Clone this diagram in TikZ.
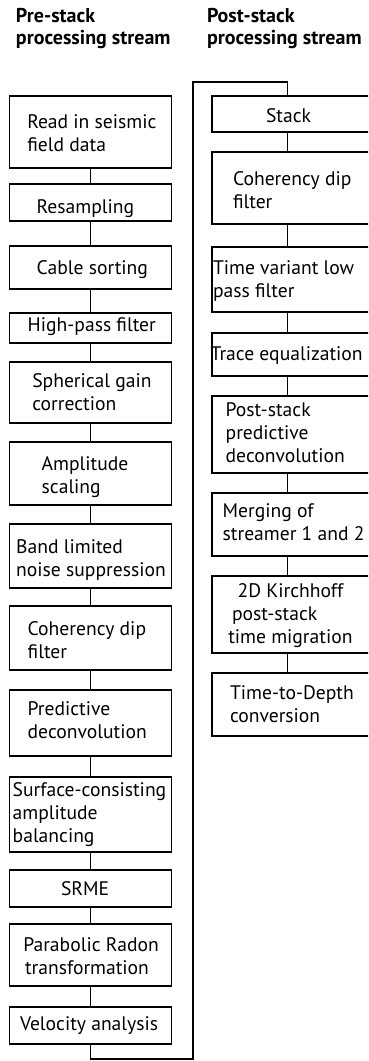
\documentclass[tikz,border=0pt]{standalone}
\usepackage{fontspec}
\setmainfont{PT Sans}
\newcommand\mlines[1]{\vtop{\baselineskip=23pt\lineskiplimit=-30pt\lineskip=0pt\halign{##\hfil\cr#1\crcr}}}
\newcommand\tlines[1]{\vtop{\baselineskip=22pt\lineskiplimit=-30pt\lineskip=0pt\halign{##\hfil\cr#1\crcr}}}
\tikzset{
  box/.style={draw, line width=1.2pt, outer sep=0pt, inner sep=0pt, minimum width=162.2pt, anchor=north west},
  txt/.style={anchor=base west, inner sep=0pt, outer sep=0pt, font=\fontsize{19.6}{23}\selectfont},
  ttl/.style={anchor=base west, inner sep=0pt, outer sep=0pt, font=\bfseries\fontsize{20}{22}\selectfont},
  link/.style={line width=1.2pt}
}
\newcommand\bx[4]{\node[box, minimum height=\the\dimexpr#4pt-#3pt\relax] (#1) at (#2,#3) {};}
\begin{document}
\begin{tikzpicture}[x=1pt,y=-1pt]
\useasboundingbox (0,0) rectangle (368,1061);
\clip (0,0) rectangle (368,1061);
% titles
\node[ttl] (t1) at (16,22) {\tlines{Pre-stack\cr processing stream}};
\node[ttl] (t2) at (207,22) {\tlines{Post-stack\cr processing stream}};
% left boxes
\bx{L1}{9.5}{96}{168}
\bx{L2}{9.5}{184}{221}
\bx{L3}{9.5}{246}{289}
\bx{L4}{9.5}{313}{343}
\bx{L5}{9.5}{362}{423}
\bx{L6}{9.5}{442}{505}
\bx{L7}{9.5}{524}{588}
\bx{L8}{9.5}{606}{670}
\bx{L9}{9.5}{690}{756}
\bx{L10}{9.5}{777}{852}
\bx{L11}{9.5}{870}{907}
\bx{L12}{9.5}{924}{986}
\bx{L13}{9.5}{1007}{1044}
% right boxes
\bx{R1}{212}{96}{132}
\bx{R2}{212}{152}{224}
\bx{R3}{212}{247}{312}
\bx{R4}{212}{333}{376}
\bx{R5}{212}{396}{473}
\bx{R6}{212}{493}{556}
\bx{R7}{212}{576}{653}
\bx{R8}{212}{673}{736}
% texts
\node[txt] (l1) at (27.3,128) {\mlines{Read in seismic\cr field data}};
\node[txt] (l2) at (36.7,213) {Resampling};
\node[txt] (l3) at (36.7,274) {Cable sorting};
\node[txt] (l4) at (27.7,331.7) {High-pass filter};
\node[txt] (l5) at (32.3,387) {\mlines{Spherical gain\cr correction}};
\node[txt] (l6) at (41.7,470) {\mlines{Amplitude\cr scaling}};
\node[txt] (l7) at (16.2,553) {\mlines{Band limited\cr noise suppression}};
\node[txt] (l8) at (27.7,635) {\mlines{Coherency dip\cr filter}};
\node[txt] (l9) at (27.7,715) {\mlines{Predictive\cr deconvolution}};
\node[txt] (l10) at (12.7,796.7) {\mlines{Surface-consisting\cr amplitude\cr balancing}};
\node[txt] (l11) at (61,895) {SRME};
\node[txt] (l12) at (23.3,951.7) {\mlines{Parabolic Radon\cr \hskip1.7pt transformation}};
\node[txt] (l13) at (20,1030.7) {Velocity analysis};
\node[txt] (r1) at (266,122) {Stack};
\node[txt] (r2) at (233,185) {\mlines{Coherency dip\cr filter}};
\node[txt] (r3) at (213,274) {\mlines{Time variant low\cr pass filter}};
\node[txt] (r4) at (210.7,360) {Trace equalization};
\node[txt] (r5) at (225.7,416.7) {\mlines{Post-stack\cr predictive\cr deconvolution}};
\node[txt] (r6) at (222.7,517.5) {\mlines{Merging of\cr streamer 1 and 2}};
\node[txt] (r7) at (228.3,597.3) {\mlines{\hskip9.4pt 2D Kirchhoff\cr \hskip3.7pt post-stack\cr time migration}};
\node[txt] (r8) at (230,699) {\mlines{Time-to-Depth\cr conversion}};
% connectors
\coordinate (rc) at (287.3,0);
\coordinate (bot) at (193,1059);
\coordinate (top) at (193,82);
\foreach \a/\b in {L1/L2,L2/L3,L3/L4,L4/L5,L5/L6,L6/L7,L7/L8,L8/L9,L9/L10,L10/L11,L11/L12,L12/L13}
  \draw[link] (\a.south) -- (\b.north);
\foreach \a/\b in {R1/R2,R2/R3,R3/R4,R4/R5,R5/R6,R6/R7,R7/R8}
  \draw[link] (\a.south -| rc) -- (\b.north -| rc);
\draw[link] (L13.south) |- (bot) -- (top) -| (R1.north -| rc);
\end{tikzpicture}
\end{document}
